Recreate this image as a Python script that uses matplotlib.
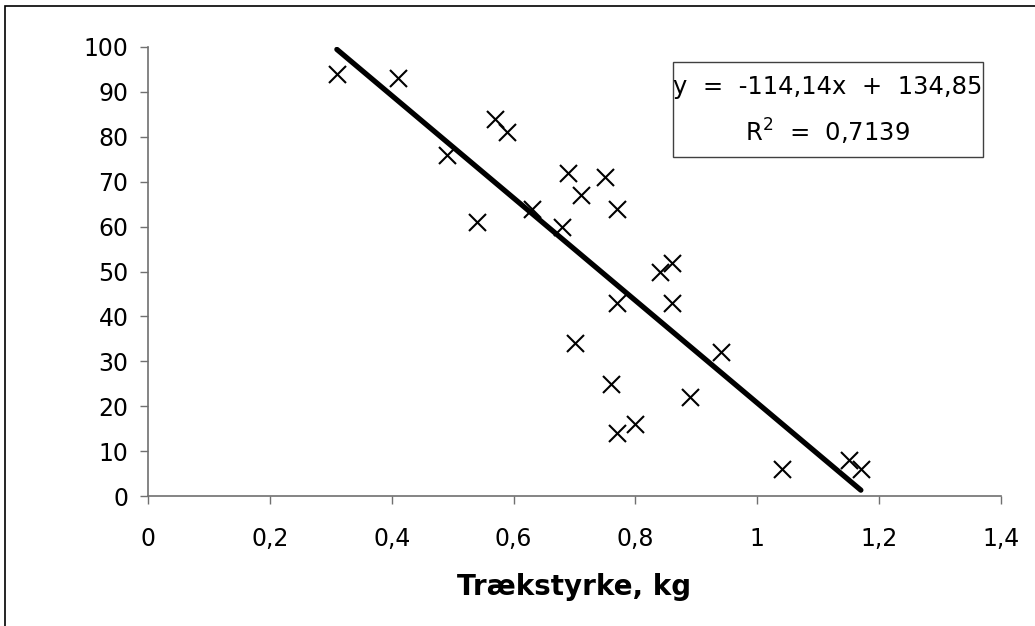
import numpy as np
import matplotlib
matplotlib.use('Agg')
import matplotlib.pyplot as plt
from matplotlib.patches import Rectangle

# Data

traek = [0.31, 0.41, 0.49, 0.54, 0.57, 0.59, 0.63, 0.68, 0.69, 0.70, 0.71, 0.75, 0.76,
         0.77, 0.77, 0.77, 0.80, 0.84, 0.86, 0.86, 0.89, 0.94, 1.04, 1.15, 1.17]
vaerdi = [94, 93, 76, 61, 84, 81, 64, 60, 72, 34, 67, 71, 25,
          64, 43, 14, 16, 50, 52, 43, 22, 32, 6, 8, 6]

slope = -114.14
intercept = 134.85
r2 = 0.7139

xticks = [0, 0.2, 0.4, 0.6, 0.8, 1.0, 1.2, 1.4]
xticklabels = ['0', '0,2', '0,4', '0,6', '0,8', '1', '1,2', '1,4']
yticks = list(range(0, 101, 10))

plt.rcParams['font.family'] = 'DejaVu Sans'

# Graph

fig = plt.figure(figsize=(10.35, 6.26), dpi=100)
ax = fig.add_axes([148 / 1035, 1 - 496 / 626, 853 / 1035, 449 / 626])

x = np.array(traek)
ax.scatter(x, vaerdi, marker='x', s=150, color='black', linewidths=1.5, zorder=3)

xl = np.array([x.min(), x.max()])
ax.plot(xl, slope * xl + intercept, color='black', lw=3.8, solid_capstyle='round', zorder=4)

ax.set_xlim(0, 1.4)
ax.set_ylim(0, 100)
ax.set_xticks(xticks)
ax.set_xticklabels(xticklabels)
ax.set_yticks(yticks)
ax.tick_params(direction='out', length=6, width=1, color='#707070', labelsize=17)
ax.tick_params(axis='x', pad=16)
ax.tick_params(axis='y', pad=8)

for s in ['top', 'right']:
    ax.spines[s].set_visible(False)
for s in ['left', 'bottom']:
    ax.spines[s].set_color('#707070')
    ax.spines[s].set_linewidth(1.2)

ax.set_xlabel('Trækstyrke, kg', fontsize=20, fontweight='bold', labelpad=16)

# equation box (Excel style trendline label)
ax.add_patch(Rectangle((0.6155, 0.755), 0.3635, 0.2116, transform=ax.transAxes,
                       facecolor='white', edgecolor='#404040', lw=1, zorder=5, clip_on=False))
ax.text(0.797, 0.911, 'y  =  -114,14x  +  134,85', transform=ax.transAxes,
        ha='center', va='center', fontsize=17.5, zorder=6)
ax.text(0.797, 0.8107, 'R$^2$  =  ' + f'{r2}'.replace('.', ','), transform=ax.transAxes,
        ha='center', va='center', fontsize=17.5, zorder=6)

# outer chart border
fig.patches.append(Rectangle((5 / 1035, -0.1), 1.2, 1 - 6 / 626 + 0.1, transform=fig.transFigure,
                             fill=False, edgecolor='black', lw=1.2, clip_on=False))

fig.savefig('out.png', dpi=100)
